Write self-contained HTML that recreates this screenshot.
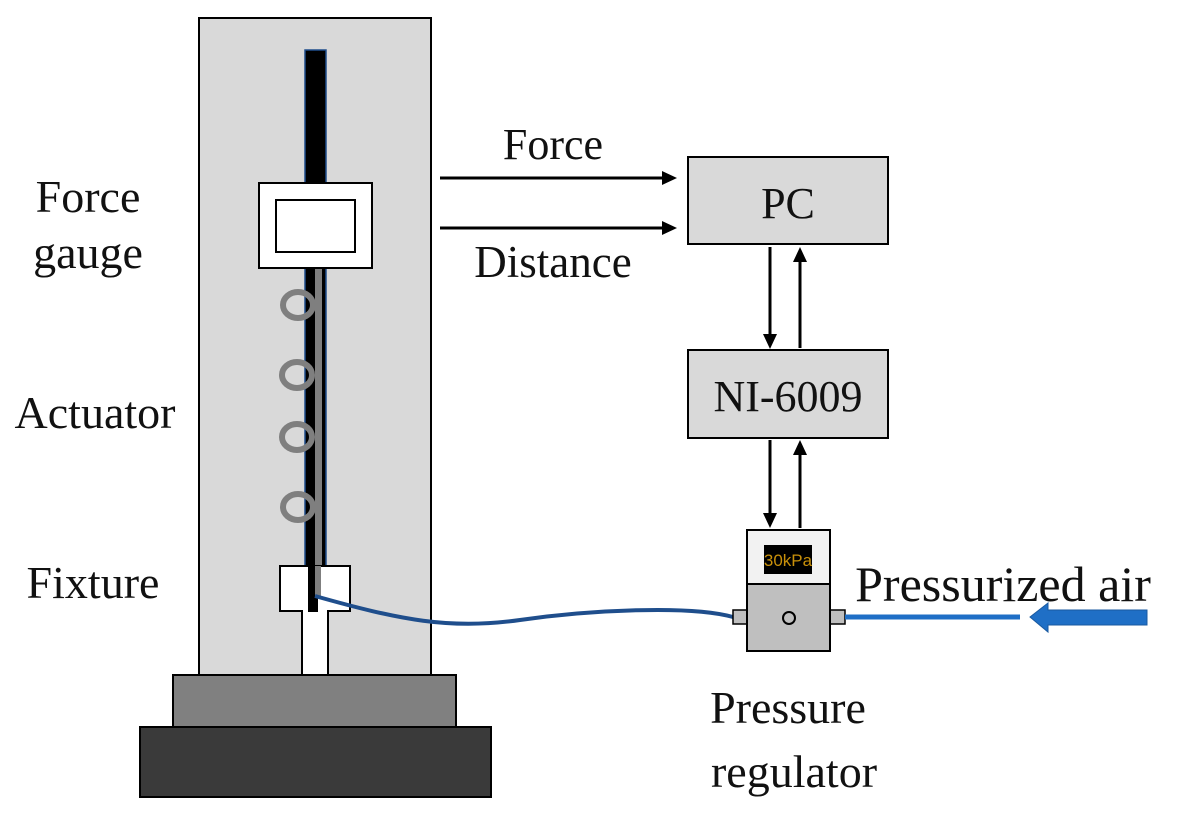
<!DOCTYPE html>
<html><head><style>
html,body{margin:0;padding:0;background:#fff;}
svg{display:block}
text{font-family:"Liberation Serif",serif;fill:#111}
</style></head><body>
<svg width="1183" height="817" viewBox="0 0 1183 817">
<rect x="140" y="727" width="351" height="70" fill="#3a3a3a" stroke="#000" stroke-width="2"/>
<rect x="173" y="675" width="283" height="52" fill="#808080" stroke="#000" stroke-width="2"/>
<rect x="199" y="18" width="232" height="657" fill="#d9d9d9" stroke="#000" stroke-width="2"/>
<rect x="305" y="50" width="21" height="516" fill="#000" stroke="#1f4e8c" stroke-width="1.5"/>
<g fill="none" stroke="#7f7f7f" stroke-width="6">
<ellipse cx="298" cy="305" rx="15" ry="13"/>
<ellipse cx="297" cy="375" rx="15" ry="13"/>
<ellipse cx="297" cy="437" rx="15" ry="13"/>
<ellipse cx="298" cy="507" rx="15" ry="13"/>
</g>
<rect x="315" y="268" width="7" height="300" fill="#7f7f7f"/>
<path d="M280 566 H350 V611 H328 V675 H302 V611 H280 Z" fill="#fff" stroke="#000" stroke-width="2"/>
<rect x="308" y="566" width="10" height="46" fill="#000"/>
<rect x="315" y="566" width="6" height="30" fill="#7f7f7f"/>
<rect x="259" y="183" width="113" height="85" fill="#fff" stroke="#000" stroke-width="2"/>
<rect x="276" y="200" width="79" height="52" fill="#fff" stroke="#000" stroke-width="2"/>
<path d="M315 596 C400 620, 450 630, 520 620 S690 605, 733 617" fill="none" stroke="#1f4e8c" stroke-width="4"/>
<text x="88" y="212" font-size="46" text-anchor="middle">Force</text>
<text x="88" y="268" font-size="46" text-anchor="middle">gauge</text>
<text x="95" y="428" font-size="46" text-anchor="middle">Actuator</text>
<text x="93" y="598" font-size="46" text-anchor="middle">Fixture</text>
<line x1="440" y1="178" x2="664" y2="178" stroke="#000" stroke-width="3"/>
<path d="M662 171 L677 178 L662 185 Z" fill="#000"/>
<line x1="440" y1="228" x2="664" y2="228" stroke="#000" stroke-width="3"/>
<path d="M662 221 L677 228 L662 235 Z" fill="#000"/>
<text x="553" y="159" font-size="44" text-anchor="middle">Force</text>
<text x="553" y="277" font-size="45" text-anchor="middle">Distance</text>
<rect x="688" y="157" width="200" height="87" fill="#d9d9d9" stroke="#000" stroke-width="2"/>
<text x="788" y="218" font-size="44" text-anchor="middle">PC</text>
<rect x="688" y="350" width="200" height="88" fill="#d9d9d9" stroke="#000" stroke-width="2"/>
<text x="788" y="411" font-size="44" text-anchor="middle">NI-6009</text>
<g stroke="#000" stroke-width="3">
<line x1="770" y1="247" x2="770" y2="336"/>
<line x1="800" y1="262" x2="800" y2="348"/>
<line x1="770" y1="440" x2="770" y2="514"/>
<line x1="800" y1="455" x2="800" y2="528"/>
</g>
<path d="M763 334 L770 349 L777 334 Z" fill="#000"/>
<path d="M793 262 L800 247 L807 262 Z" fill="#000"/>
<path d="M763 513 L770 528 L777 513 Z" fill="#000"/>
<path d="M793 455 L800 440 L807 455 Z" fill="#000"/>
<rect x="733" y="610" width="14" height="14" fill="#bfbfbf" stroke="#000" stroke-width="1.5"/>
<rect x="830" y="610" width="15" height="14" fill="#bfbfbf" stroke="#000" stroke-width="1.5"/>
<rect x="747" y="530" width="83" height="54" fill="#f2f2f2" stroke="#000" stroke-width="2"/>
<rect x="747" y="584" width="83" height="67" fill="#bfbfbf" stroke="#000" stroke-width="2"/>
<rect x="764" y="545" width="48" height="29" fill="#000"/>
<text x="788" y="566" font-size="17" text-anchor="middle" style="font-family:'Liberation Sans',sans-serif;fill:#c8900a">30kPa</text>
<circle cx="789" cy="618" r="6" fill="none" stroke="#000" stroke-width="2"/>
<line x1="845" y1="617" x2="1020" y2="617" stroke="#1f6fc6" stroke-width="5"/>
<path d="M1030 617 L1048 603 L1048 610 L1147 610 L1147 625 L1048 625 L1048 632 Z" fill="#1f6fc6" stroke="#1a5aa0" stroke-width="1"/>
<text x="1003" y="601" font-size="50" text-anchor="middle">Pressurized air</text>
<text x="788" y="723" font-size="46" text-anchor="middle">Pressure</text>
<text x="794" y="787" font-size="46" text-anchor="middle">regulator</text>
</svg>
</body></html>
